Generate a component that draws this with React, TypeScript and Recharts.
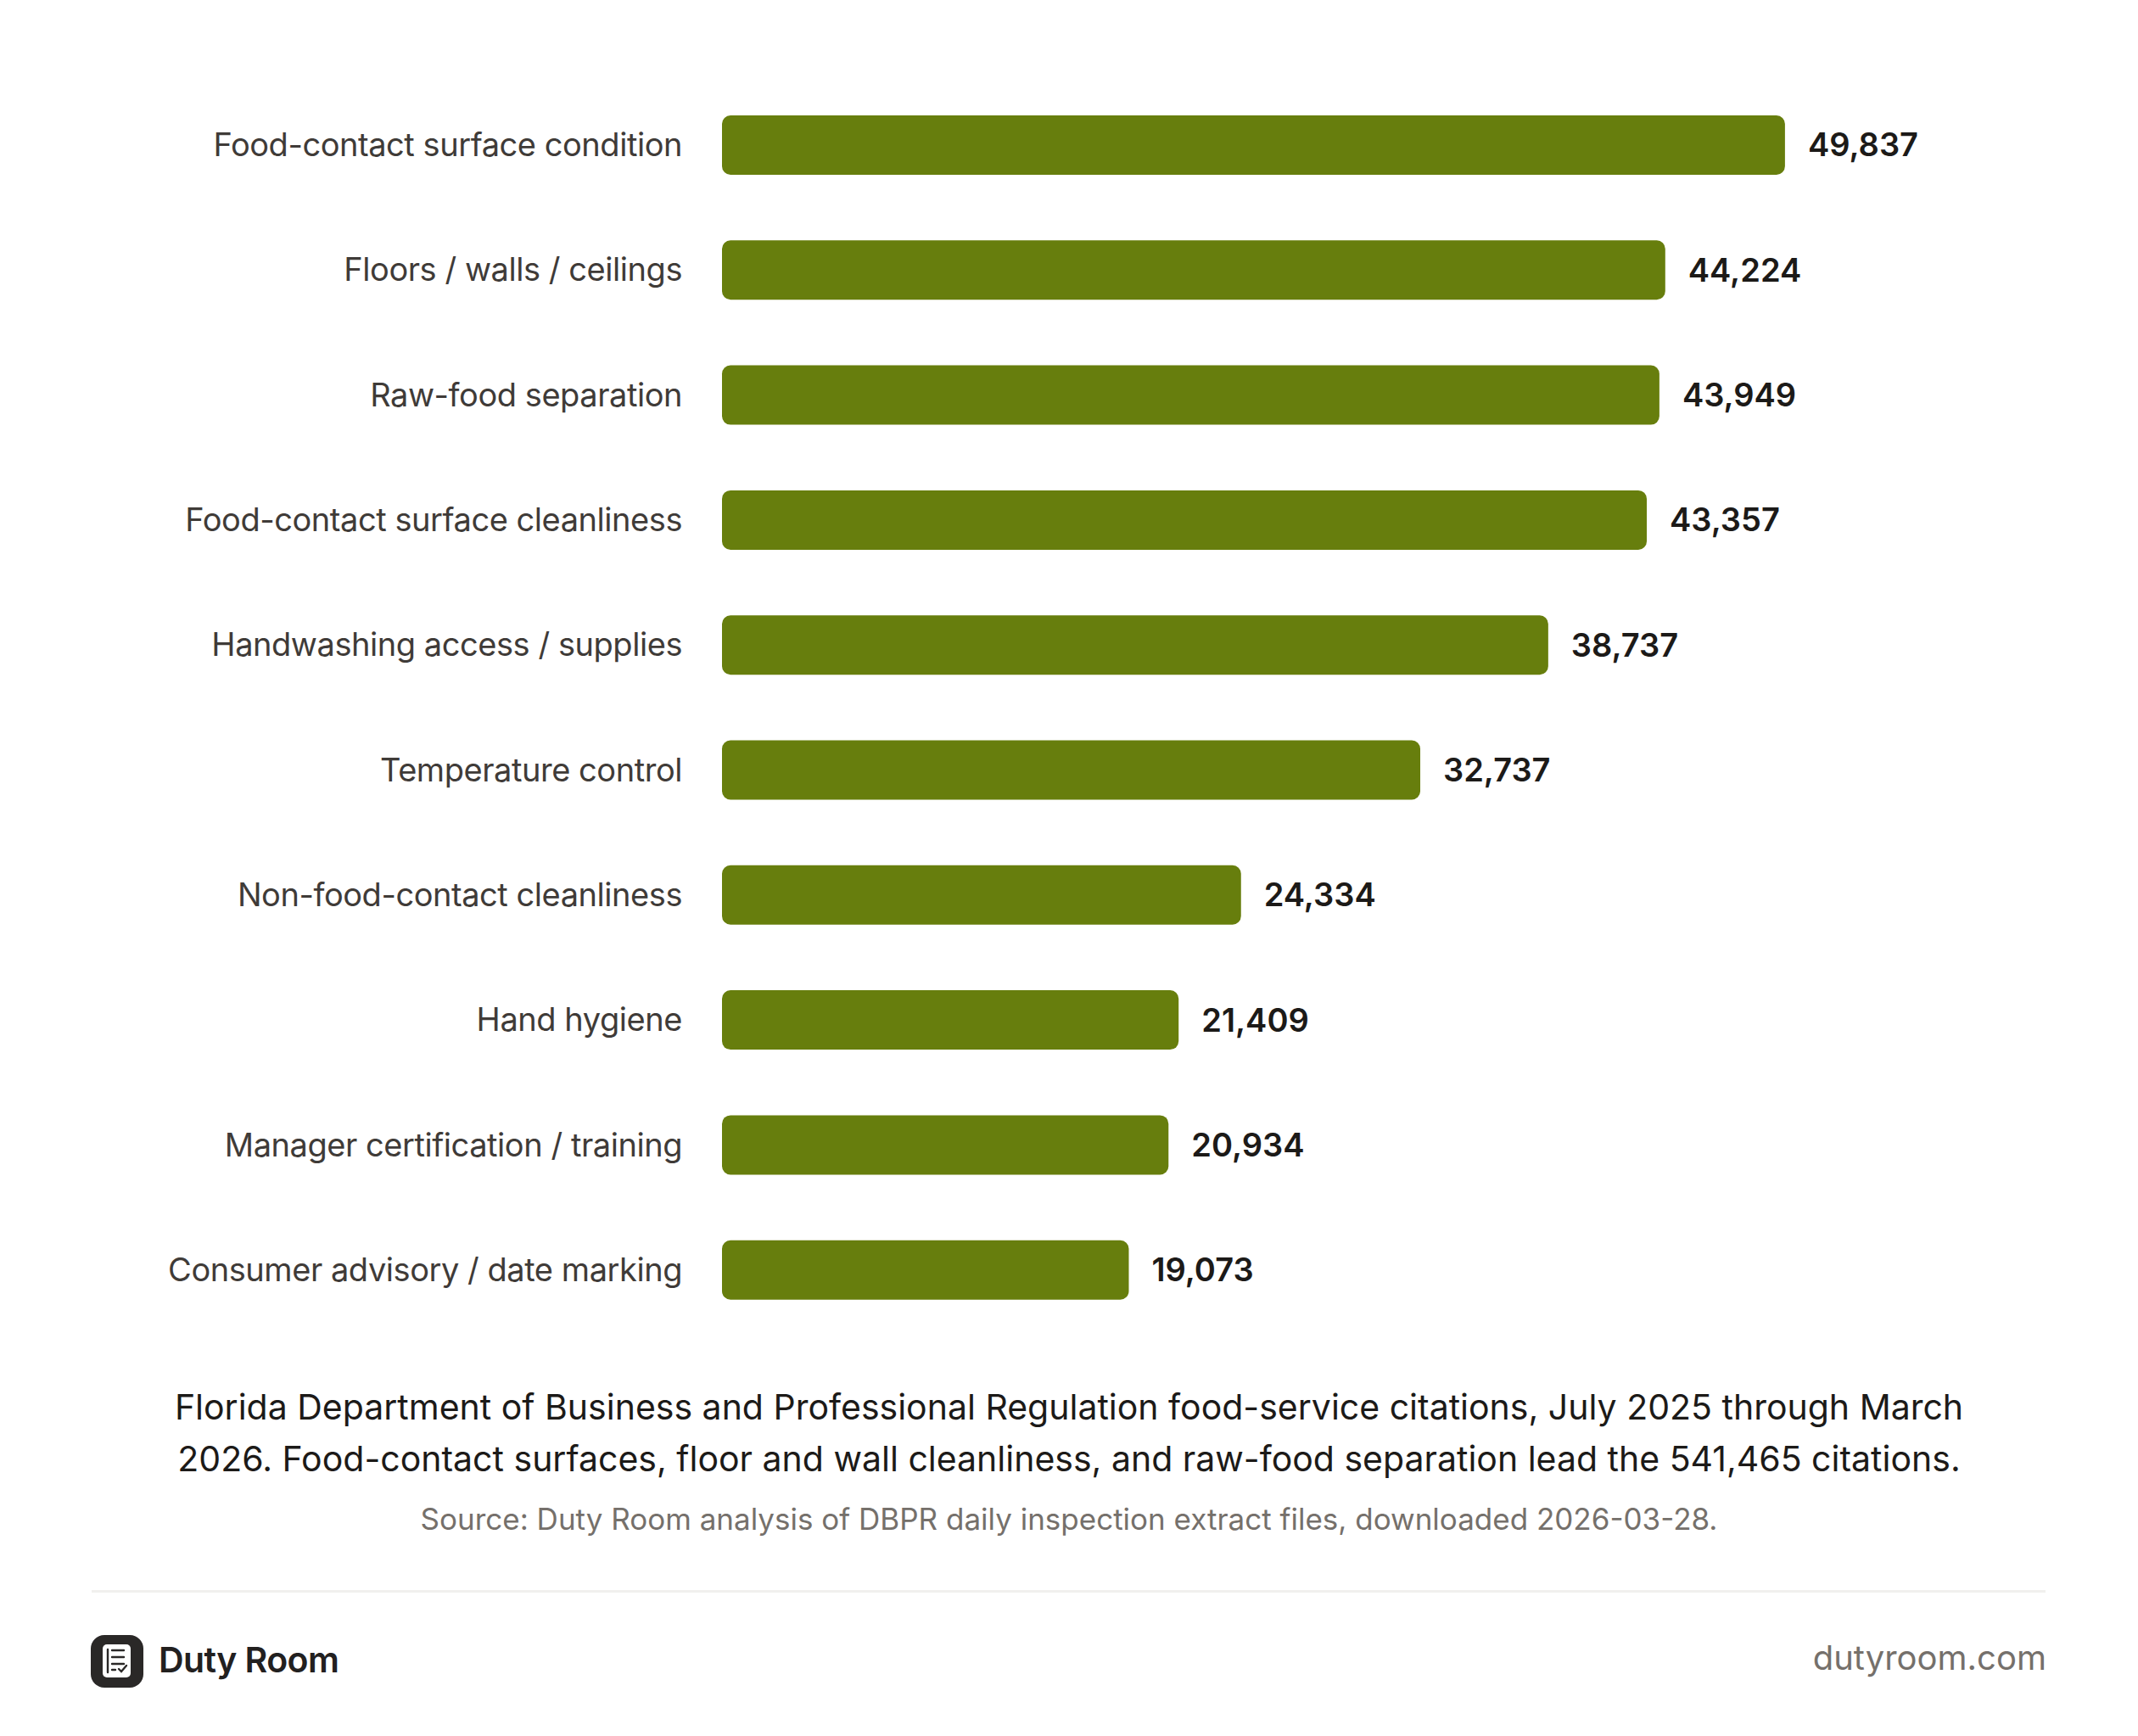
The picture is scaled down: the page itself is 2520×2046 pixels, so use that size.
import React from "react";
import { Bar, BarChart, LabelList, XAxis, YAxis } from "recharts";

const categories = [
  "Food-contact surface condition",
  "Floors / walls / ceilings",
  "Raw-food separation",
  "Food-contact surface cleanliness",
  "Handwashing access / supplies",
  "Temperature control",
  "Non-food-contact cleanliness",
  "Hand hygiene",
  "Manager certification / training",
  "Consumer advisory / date marking",
];

const citations = [49837, 44224, 43949, 43357, 38737, 32737, 24334, 21409, 20934, 19073];

const captionLines = [
  "Florida Department of Business and Professional Regulation food-service citations, July 2025 through March",
  "2026. Food-contact surfaces, floor and wall cleanliness, and raw-food separation lead the 541,465 citations.",
];
const sourceText = "Source: Duty Room analysis of DBPR daily inspection extract files, downloaded 2026-03-28.";
const brandName = "Duty Room";
const brandUrl = "dutyroom.com";

const data = categories.map((name, i) => ({ name, value: citations[i] }));

const FONT = "Inter, 'Noto Sans', sans-serif";
const BAR = "#677e0d";

function Logo() {
  return (
    <svg width={62} height={62} style={{ position: "absolute", left: 107, top: 1927 }}>
      <rect x={0} y={0} width={62} height={62} rx={16} fill="#2a2827" />
      <rect x={14} y={11} width={33} height={39} rx={5} fill="#fff" />
      <g stroke="#2a2827" strokeWidth={2.4} strokeLinecap="round" fill="none">
        <line x1={20} y1={17} x2={20} y2={44} />
        <line x1={25} y1={18} x2={39} y2={18} />
        <line x1={25} y1={26} x2={39} y2={26} />
        <line x1={25} y1={34} x2={39} y2={34} />
        <line x1={25} y1={41} x2={29} y2={41} />
        <polyline points="33,40 36,43 42,36" />
      </g>
    </svg>
  );
}

export default function App() {
  return (
    <div style={{ position: "relative", width: 2520, height: 2046, background: "#fff", fontFamily: FONT, overflow: "hidden" }}>
      <style>{`body{margin:0;background:#fff}`}</style>
      <div style={{ position: "absolute", left: 0, top: 0 }}>
        <BarChart
          width={2520}
          height={1570}
          data={data}
          layout="vertical"
          margin={{ top: 97, right: 412, bottom: 0, left: 0 }}
          barCategoryGap={0}
        >
          <XAxis type="number" domain={[0, 50000]} hide />
          <YAxis
            type="category"
            dataKey="name"
            width={851}
            axisLine={false}
            tickLine={false}
            tickSize={0}
            tickMargin={47}
            interval={0}
            tick={{ fill: "#3f3b38", fontSize: 38, fontFamily: FONT, letterSpacing: -0.45 }}
          />
          <Bar dataKey="value" fill={BAR} barSize={70} radius={10} isAnimationActive={false}>
            <LabelList
              dataKey="value"
              position="right"
              offset={27}
              formatter={(v: number) => v.toLocaleString("en-US")}
              style={{ fill: "#1c1a18", fontSize: 38, fontWeight: 600, fontFamily: FONT }}
            />
          </Bar>
        </BarChart>
      </div>
      <div
        style={{
          position: "absolute",
          left: 0,
          top: 1628,
          width: 2520,
          textAlign: "center",
          fontSize: 41,
          lineHeight: "61px",
          color: "#1c1a18",
        }}
      >
        {captionLines[0]}
        <br />
        {captionLines[1]}
      </div>
      <div
        style={{
          position: "absolute",
          left: 0,
          top: 1770,
          width: 2520,
          textAlign: "center",
          fontSize: 35,
          lineHeight: "40px",
          color: "#75706b",
        }}
      >
        {sourceText}
      </div>
      <div style={{ position: "absolute", left: 108, top: 1874, width: 2303, height: 3, background: "#f1f0ee" }} />
      <Logo />
      <div style={{ position: "absolute", left: 187, top: 1926, fontSize: 41, fontWeight: 600, color: "#22201f", lineHeight: "60px", letterSpacing: -0.6 }}>
        {brandName}
      </div>
      <div style={{ position: "absolute", right: 2520 - 2412, top: 1924, fontSize: 40, color: "#75706b", lineHeight: "60px" }}>
        {brandUrl}
      </div>
    </div>
  );
}
